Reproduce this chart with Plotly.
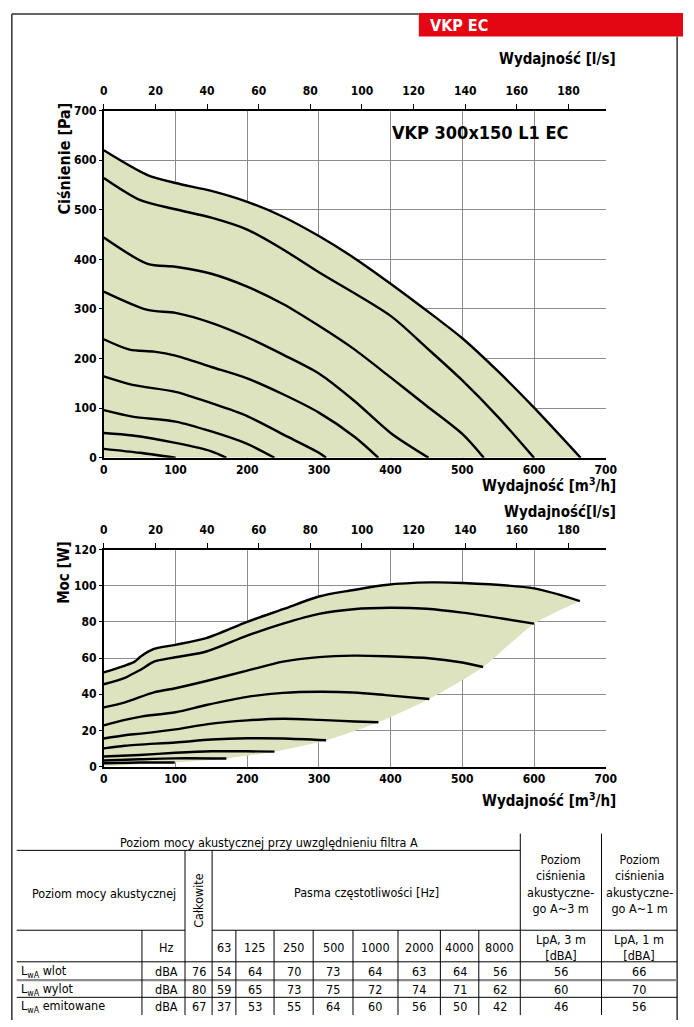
import plotly.graph_objects as go

W, H = 694, 1027


def fx(px):
    return px / W


def fy(py):
    return 1 - py / H


# ---------------- DATA ----------------
# Pressure curves: airflow [m3/h] -> pressure [Pa]
p1_x = [0, 61, 100, 150, 200, 250, 300, 348, 400, 461, 500, 550, 600, 665]
p1_y = [620, 570, 554, 538, 516, 486, 447, 404, 351, 285, 241, 174, 101, 0]
p2_x = [0, 50, 100, 150, 200, 250, 300, 400, 450, 500, 550, 600]
p2_y = [564, 520, 501, 484, 460, 420, 374, 286, 222, 156, 82, 0]
p3_x = [0, 61, 100, 150, 200, 250, 300, 348, 400, 450, 500, 530]
p3_y = [444, 391, 385, 371, 345, 310, 266, 220, 162, 105, 48, 0]
p4_x = [0, 61, 100, 150, 200, 250, 300, 350, 400, 453]
p4_y = [335, 298, 292, 272, 243, 208, 170, 114, 50, 0]
p5_x = [0, 36, 70, 100, 150, 200, 250, 300, 350, 383]
p5_y = [239, 218, 214, 206, 183, 160, 128, 91, 42, 0]
p6_x = [0, 40, 100, 150, 200, 257, 300, 310]
p6_y = [164, 147, 133, 110, 84, 42, 10, 0]
p7_x = [0, 40, 100, 150, 200, 238]
p7_y = [96, 83, 73, 53, 28, 0]
p8_x = [0, 40, 100, 150, 171]
p8_y = [50, 45, 30, 13, 0]
p9_x = [0, 50, 100]
p9_y = [18, 10, 0]

# Power curves: airflow [m3/h] -> power [W]
w1_x = [0, 29.5, 43, 52, 70, 100, 143, 200, 250, 300, 339, 393, 455, 500, 600, 664]
w1_y = [52, 55.8, 58, 61, 65, 67.3, 71, 80, 87, 94, 97, 100.4, 101.8, 101.5, 98.5, 91.5]
w2_x = [0, 29.5, 39, 52, 70, 100, 143, 200, 250, 300, 348, 400, 450, 500, 553, 600]
w2_y = [45.5, 49, 51, 53.6, 58, 60.4, 63.6, 72.4, 79, 84.4, 87, 87.8, 87.2, 85.1, 82, 79]
w3_x = [0, 29.5, 70, 100, 143, 200, 250, 300, 348, 393, 450, 500, 529]
w3_y = [32.7, 35.5, 41, 43.3, 47.3, 53, 58, 60.5, 61.3, 61, 60, 57.5, 55]
w4_x = [0, 29.5, 52, 100, 143, 200, 250, 300, 348, 393, 454]
w4_y = [22.7, 25.8, 27.6, 30, 34, 38.5, 40.7, 41.3, 40.9, 39.5, 37.3]
w5_x = [0, 29.5, 52, 100, 143, 200, 250, 300, 350, 383]
w5_y = [15.5, 17.3, 18.2, 20.5, 23.3, 25.5, 26.4, 25.8, 24.9, 24.5]
w6_x = [0, 29.5, 100, 150, 200, 250, 310]
w6_y = [10, 11.5, 13.3, 14.9, 15.6, 15.5, 14.5]
w7_x = [0, 50, 100, 150, 200, 238]
w7_y = [5.5, 6.4, 7.6, 8.4, 8.4, 8.2]
w8_x = [0, 50, 100, 171]
w8_y = [3.3, 4, 4.5, 4.4]
w9_x = [0, 50, 99]
w9_y = [1.8, 2.2, 2.2]
# lower edge of the shaded power area (through curve end points)
wlow_x = [0, 50, 99, 171, 238, 310, 383, 454, 529, 600, 664]
wlow_y = [0, 1.2, 2.2, 4.4, 8.2, 14.5, 24.5, 37.3, 55, 79, 91.5]

m3h_ticks = [0, 100, 200, 300, 400, 500, 600, 700]
ls_ticks = [0, 20, 40, 60, 80, 100, 120, 140, 160, 180]
pa_ticks = [0, 100, 200, 300, 400, 500, 600, 700]
w_ticks = [0, 20, 40, 60, 80, 100, 120]

# Acoustic table
tbl_title = "Poziom mocy akustycznej przy uwzględnieniu filtra A"
freq_bands = ["63", "125", "250", "500", "1000", "2000", "4000", "8000"]
row_labels = ["L<sub>wA</sub> wlot", "L<sub>wA</sub> wylot", "L<sub>wA</sub> emitowane"]
row_units = ["dBA", "dBA", "dBA"]
total_vals = [76, 80, 67]
band_vals = [[54, 64, 70, 73, 64, 63, 64, 56],
             [59, 65, 73, 75, 72, 74, 71, 62],
             [37, 53, 55, 64, 60, 56, 50, 42]]
lpa3_vals = [56, 60, 46]
lpa1_vals = [66, 70, 56]

# ---------------- STYLE ----------------
FONT = "DejaVu Sans Condensed, sans-serif"
FILL = "rgb(221,227,190)"
GRID = "rgb(140,140,140)"
LW = 2.4

fig = go.Figure()

# ---- top chart (pressure) ----
pcurves = [(p1_x, p1_y), (p2_x, p2_y), (p3_x, p3_y), (p4_x, p4_y), (p5_x, p5_y),
           (p6_x, p6_y), (p7_x, p7_y), (p8_x, p8_y), (p9_x, p9_y)]
for i, (xs, ys) in enumerate(pcurves):
    fig.add_trace(go.Scatter(
        x=xs, y=ys, mode="lines", xaxis="x", yaxis="y",
        line=dict(color="black", width=LW, shape="spline", smoothing=0.8),
        fill="tozeroy" if i == 0 else None,
        fillcolor=FILL if i == 0 else None,
        showlegend=False, hoverinfo="skip"))

# ---- bottom chart (power) ----
fig.add_trace(go.Scatter(
    x=wlow_x, y=wlow_y, mode="lines", xaxis="x3", yaxis="y3",
    line=dict(color="rgba(0,0,0,0)", width=0, shape="spline", smoothing=0.6),
    showlegend=False, hoverinfo="skip"))
fig.add_trace(go.Scatter(
    x=w1_x, y=w1_y, mode="lines", xaxis="x3", yaxis="y3",
    line=dict(color="rgba(0,0,0,0)", width=0, shape="spline", smoothing=0.8),
    fill="tonexty", fillcolor=FILL, showlegend=False, hoverinfo="skip"))
wcurves = [(w1_x, w1_y), (w2_x, w2_y), (w3_x, w3_y), (w4_x, w4_y), (w5_x, w5_y),
           (w6_x, w6_y), (w7_x, w7_y), (w8_x, w8_y), (w9_x, w9_y)]
for xs, ys in wcurves:
    fig.add_trace(go.Scatter(
        x=xs, y=ys, mode="lines", xaxis="x3", yaxis="y3",
        line=dict(color="black", width=LW, shape="spline", smoothing=0.8),
        showlegend=False, hoverinfo="skip"))

# dummy traces to activate the top (l/s) axes
fig.add_trace(go.Scatter(x=[0], y=[0], xaxis="x2", yaxis="y", mode="markers",
                         marker=dict(opacity=0), showlegend=False, hoverinfo="skip"))
fig.add_trace(go.Scatter(x=[0], y=[0], xaxis="x4", yaxis="y3", mode="markers",
                         marker=dict(opacity=0), showlegend=False, hoverinfo="skip"))

tickfont = dict(family=FONT, size=12, color="black", weight="bold")
xdom = [fx(102), fx(615)]
common_x = dict(domain=xdom, range=[0, 700], tickvals=m3h_ticks, showgrid=True,
                gridcolor=GRID, gridwidth=1, showline=True, linecolor="black",
                linewidth=1.5, ticks="", tickfont=tickfont, zeroline=False,
                fixedrange=True)
common_top = dict(range=[0, 700 / 3.6], tickvals=ls_ticks, side="top",
                  showgrid=False, showline=True, linecolor="black", linewidth=1.5,
                  ticks="outside", ticklen=5, tickcolor="black", tickfont=tickfont,
                  ticklabelstandoff=4, zeroline=False, fixedrange=True)

fig.update_layout(
    width=W, height=H, margin=dict(l=0, r=0, t=0, b=0),
    paper_bgcolor="white", plot_bgcolor="white", showlegend=False,
    xaxis=dict(anchor="y", **common_x),
    yaxis=dict(domain=[fy(457), fy(105)], range=[0, 700], tickvals=pa_ticks,
               showgrid=True, gridcolor=GRID, showline=True, linecolor="black",
               linewidth=1.5, ticks="outside", ticklen=3, tickcolor="black",
               tickfont=tickfont, zeroline=False, fixedrange=True),
    xaxis2=dict(anchor="y", overlaying="x", **common_top),
    xaxis3=dict(anchor="y3", **common_x),
    yaxis3=dict(domain=[fy(770), fy(550)], range=[0, 120], tickvals=w_ticks,
                showgrid=True, gridcolor=GRID, showline=True, linecolor="black",
                linewidth=1.5, ticks="outside", ticklen=3, tickcolor="black",
                tickfont=tickfont, zeroline=False, fixedrange=True),
    xaxis4=dict(anchor="y3", overlaying="x3", **common_top),
)

ann = []
shapes = []


def text(px, py, s, size=13, xanchor="center", angle=0, color="black"):
    ann.append(dict(x=fx(px), y=fy(py), xref="paper", yref="paper", text=s,
                    showarrow=False, xanchor=xanchor, yanchor="middle",
                    textangle=angle, borderpad=0,
                    font=dict(family=FONT, size=size, color=color)))


def hline(x0, x1, y, color="black", width=1):
    shapes.append(dict(type="line", xref="paper", yref="paper", x0=fx(x0), x1=fx(x1),
                       y0=fy(y), y1=fy(y), line=dict(color=color, width=width)))


def vline(x, y0, y1, color="black", width=1):
    shapes.append(dict(type="line", xref="paper", yref="paper", x0=fx(x), x1=fx(x),
                       y0=fy(y0), y1=fy(y1), line=dict(color=color, width=width)))


# frame and red badge
hline(8, 424, 7, color="#333", width=1.5)
vline(8, 7, 1027, color="#333", width=1.5)
vline(688, 30, 1027, color="#333", width=1.5)
shapes.append(dict(type="rect", xref="paper", yref="paper", x0=fx(424), x1=1,
                   y0=fy(30), y1=fy(6), fillcolor="#e30613", line=dict(width=0)))
text(434, 19, "<b>VKP EC</b>", size=16, xanchor="left", color="white")

# chart titles
text(627, 53, "<b>Wydajność [l/s]</b>", size=15, xanchor="right")
text(487, 127, "<b>VKP 300x150 L1 EC</b>", size=18)
text(62, 154, "<b>Ciśnienie [Pa]</b>", size=16, angle=-90)
text(627, 485, "<b>Wydajność [m<sup>3</sup>/h]</b>", size=15, xanchor="right")
text(627, 512, "<b>Wydajność[l/s]</b>", size=15, xanchor="right")
text(62, 573, "<b>Moc [W]</b>", size=15, angle=-90)
text(627, 804, "<b>Wydajność [m<sup>3</sup>/h]</b>", size=15, xanchor="right")

# ---- table ----
cx = [13, 141, 185, 212.7, 237, 276, 316, 356.7, 402.7, 446, 485.3, 527.7, 610.7, 688]
T_TOP, R1, R2, R3, R4, R5, T_BOT = 838, 855, 936, 968, 986.5, 1004, 1022
hline(13, cx[11], R1)
hline(13, cx[2], R2)
hline(cx[3], 688, R2)
hline(13, 688, R3)
hline(13, 688, R4, color="rgb(140,140,140)", width=2.2)
hline(13, 688, R5)
vline(cx[11], T_TOP, T_BOT)
vline(cx[12], T_TOP, T_BOT)
vline(cx[2], R1, T_BOT)
vline(cx[3], R1, T_BOT)
for k in [1, 4, 5, 6, 7, 8, 9, 10]:
    vline(cx[k], R2, T_BOT)

TS = 12.5
text((13 + cx[11]) / 2, 847, tbl_title, size=TS)
text(102, 899, "Poziom mocy akustycznej", size=TS)
text(198.5, 906, "Całkowite", size=TS, angle=-90)
text((cx[3] + cx[11]) / 2, 898, "Pasma częstotliwości [Hz]", size=TS)
text((cx[11] + cx[12]) / 2, 889, "Poziom<br>ciśnienia<br>akustyczne-<br>go A~3 m", size=TS)
text((cx[12] + cx[13]) / 2, 889, "Poziom<br>ciśnienia<br>akustyczne-<br>go A~1 m", size=TS)
text(166, 953, "Hz", size=TS)
for j, f in enumerate(freq_bands):
    text((cx[3 + j] + cx[4 + j]) / 2, 953, f, size=TS)
text((cx[11] + cx[12]) / 2, 953, "LpA, 3 m<br>[dBA]", size=TS)
text((cx[12] + cx[13]) / 2, 953, "LpA, 1 m<br>[dBA]", size=TS)

row_y = [978, 996, 1013]
for r in range(3):
    y = row_y[r]
    text(16, y, row_labels[r], size=TS, xanchor="left")
    text(166, y, row_units[r], size=TS)
    text((cx[2] + cx[3]) / 2, y, str(total_vals[r]), size=TS)
    for j in range(8):
        text((cx[3 + j] + cx[4 + j]) / 2, y, str(band_vals[r][j]), size=TS)
    text((cx[11] + cx[12]) / 2, y, str(lpa3_vals[r]), size=TS)
    text((cx[12] + cx[13]) / 2, y, str(lpa1_vals[r]), size=TS)

fig.update_layout(annotations=ann, shapes=shapes)
fig.write_html("out.html")
